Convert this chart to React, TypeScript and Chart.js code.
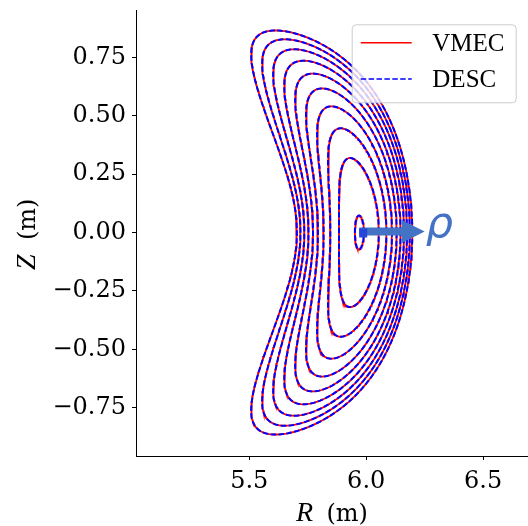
import React, { useEffect, useRef } from "react";
import { Chart, registerables } from "chart.js";
Chart.register(...registerables);

// Axis ticks and limits (metres)
const X_TICKS = [5.5, 6.0, 6.5];
const Y_TICKS = [-0.75, -0.5, -0.25, 0, 0.25, 0.5, 0.75];
const X_RANGE = [5.0154, 6.692];
const Y_RANGE = [-0.9568, 0.9525];

// Normalised flux-surface radii that are plotted
const RHO = [0.075, 0.333, 0.471, 0.577, 0.667, 0.745, 0.816, 0.882, 0.943, 1.0];

// Magnetic axis and boundary Fourier modes in the phi = 0 plane (m = 0..4)
const AXIS_R = 5.971;
const R_COS = [-0.2163, 0.2567, 0.1961, -0.0099, -0.0005];
const Z_SIN = [0, 0.861, 0.0953, 0.0056, 0.0171];
const Z_SIN_AXIS = 0.9685; // m = 1 elongation near the axis

const SERIES = [
  { name: "VMEC", color: "#ff0000", dash: [] as number[], width: 1.8 },
  { name: "DESC", color: "#0000ff", dash: [5.5, 2.4], width: 2 },
];

const ARROW_FROM = 5.97;
const ARROW_TO = 6.25;
const BLUE = "#4472c4";

function surfacePoint(rho: number, th: number) {
  const r2 = rho * rho;
  let R = AXIS_R + R_COS[0] * r2;
  let Z = 0;
  for (let m = 1; m < R_COS.length; m++) {
    const rm = Math.pow(rho, m);
    R += rm * R_COS[m] * Math.cos(m * th);
    const zm = m === 1 ? Z_SIN_AXIS + (Z_SIN[1] - Z_SIN_AXIS) * r2 : Z_SIN[m];
    Z += rm * zm * Math.sin(m * th);
  }
  return { x: R, y: Z };
}

function surface(rho: number) {
  const pts: { x: number; y: number }[] = [];
  const n = 360;
  for (let j = 0; j <= n; j++) pts.push(surfacePoint(rho, (2 * Math.PI * j) / n));
  return pts;
}

const tickFont = { family: "DejaVu Serif", size: 24 };

const decorations = {
  id: "decorations",
  afterDatasetsDraw(chart: any) {
    const { ctx, scales } = chart;
    const xs = scales.x, ys = scales.y;
    const y0 = ys.getPixelForValue(0) - 1;
    const x0 = xs.getPixelForValue(ARROW_FROM);
    const x1 = xs.getPixelForValue(ARROW_TO);
    const head = 23;
    ctx.save();
    ctx.fillStyle = BLUE;
    ctx.beginPath();
    ctx.moveTo(x0, y0 - 4);
    ctx.lineTo(x1 - head, y0 - 4);
    ctx.lineTo(x1 - head, y0 - 11.5);
    ctx.lineTo(x1, y0);
    ctx.lineTo(x1 - head, y0 + 11.5);
    ctx.lineTo(x1 - head, y0 + 4);
    ctx.lineTo(x0, y0 + 4);
    ctx.closePath();
    ctx.fill();
    ctx.fillStyle = "#2347d8";
    ctx.fillRect(x0, y0 - 3, 8, 9);
    ctx.fillStyle = BLUE;
    ctx.font = "italic 43px 'DejaVu Sans'";
    ctx.textAlign = "left";
    ctx.textBaseline = "alphabetic";
    ctx.fillText("\u03c1", x1 + 1, y0 + 6);
    ctx.restore();
  },
  afterDraw(chart: any) {
    const { ctx, chartArea: ca } = chart;
    ctx.save();
    // legend
    const w = 164, h = 78;
    const bx = ca.right - 12.3 - w, by = ca.top + 14.3;
    ctx.beginPath();
    ctx.roundRect(bx + 0.5, by + 0.5, w, h, 4);
    ctx.fillStyle = "rgba(255,255,255,0.8)";
    ctx.fill();
    ctx.strokeStyle = "#cccccc";
    ctx.lineWidth = 1;
    ctx.stroke();
    SERIES.forEach((s, i) => {
      const ry = by + 18.4 + i * 36.3;
      ctx.beginPath();
      ctx.setLineDash(s.dash);
      ctx.strokeStyle = s.color;
      ctx.lineWidth = 1.5;
      ctx.moveTo(bx + 9, ry);
      ctx.lineTo(bx + 60, ry);
      ctx.stroke();
      ctx.setLineDash([]);
      ctx.fillStyle = "#000";
      ctx.font = "25px 'Liberation Serif'";
      ctx.textBaseline = "middle";
      ctx.textAlign = "left";
      ctx.fillText(s.name, bx + 80.6, ry + 1.5);
    });
    // axis titles: italic symbol followed by the unit
    ctx.fillStyle = "#000";
    ctx.textBaseline = "alphabetic";
    ctx.textAlign = "left";
    const cx = (ca.left + ca.right) / 2;
    ctx.font = "italic 28px 'Liberation Serif'";
    ctx.fillText("R", cx - 36, 521);
    ctx.font = "24px 'DejaVu Serif'";
    ctx.fillText("(m)", cx - 5.5, 521);
    const cy = (ca.top + ca.bottom) / 2;
    ctx.translate(35, cy);
    ctx.rotate(-Math.PI / 2);
    ctx.font = "italic 28px 'Liberation Serif'";
    ctx.fillText("Z", -37, 0);
    ctx.font = "24px 'DejaVu Serif'";
    ctx.fillText("(m)", -7, 0);
    ctx.restore();
  },
};

export default function App() {
  const ref = useRef<HTMLCanvasElement>(null);
  useEffect(() => {
    const datasets: any[] = [];
    RHO.forEach((rho) => {
      const pts = surface(rho);
      SERIES.forEach((s, k) => {
        datasets.push({
          label: s.name,
          data: pts.map((q) => ({ ...q })),
          borderColor: s.color,
          borderWidth: s.width,
          borderDash: s.dash,
          showLine: true,
          pointRadius: 0,
          order: 2 - k,
        });
      });
    });
    const axisGrid = { drawOnChartArea: false, drawTicks: true, tickLength: 4, tickColor: "#000" };
    const chart = new Chart(ref.current!, {
      type: "scatter",
      data: { datasets },
      plugins: [decorations],
      options: {
        responsive: false,
        animation: false,
        layout: { autoPadding: false, padding: { top: 10, right: 0, left: 0, bottom: 0 } },
        plugins: { legend: { display: false }, tooltip: { enabled: false } },
        scales: {
          x: {
            type: "linear",
            min: X_RANGE[0],
            max: X_RANGE[1],
            afterBuildTicks: (s: any) => { s.ticks = X_TICKS.map((v) => ({ value: v })); },
            afterFit: (s: any) => { s.height = 70; s.paddingLeft = 0; s.paddingRight = 0; },
            ticks: { font: tickFont, color: "#000", padding: 7, maxRotation: 0, callback: (v: any) => Number(v).toFixed(1) },
            grid: axisGrid,
            border: { display: true, color: "#000", width: 1 },
          },
          y: {
            type: "linear",
            min: Y_RANGE[0],
            max: Y_RANGE[1],
            afterBuildTicks: (s: any) => { s.ticks = Y_TICKS.map((v) => ({ value: v })); },
            afterFit: (s: any) => { s.width = 136; s.paddingTop = 0; s.paddingBottom = 0; },
            ticks: {
              font: tickFont,
              color: "#000",
              padding: 6,
              callback: (v: any) => (v < 0 ? "\u2212" + (-v).toFixed(2) : Number(v).toFixed(2)),
            },
            grid: axisGrid,
            border: { display: true, color: "#000", width: 1 },
          },
        },
      },
    });
    return () => chart.destroy();
  }, []);
  return (
    <div style={{ position: "fixed", left: 0, top: 0, width: 528, height: 526 }}>
      <canvas ref={ref} width={528} height={526} />
    </div>
  );
}
